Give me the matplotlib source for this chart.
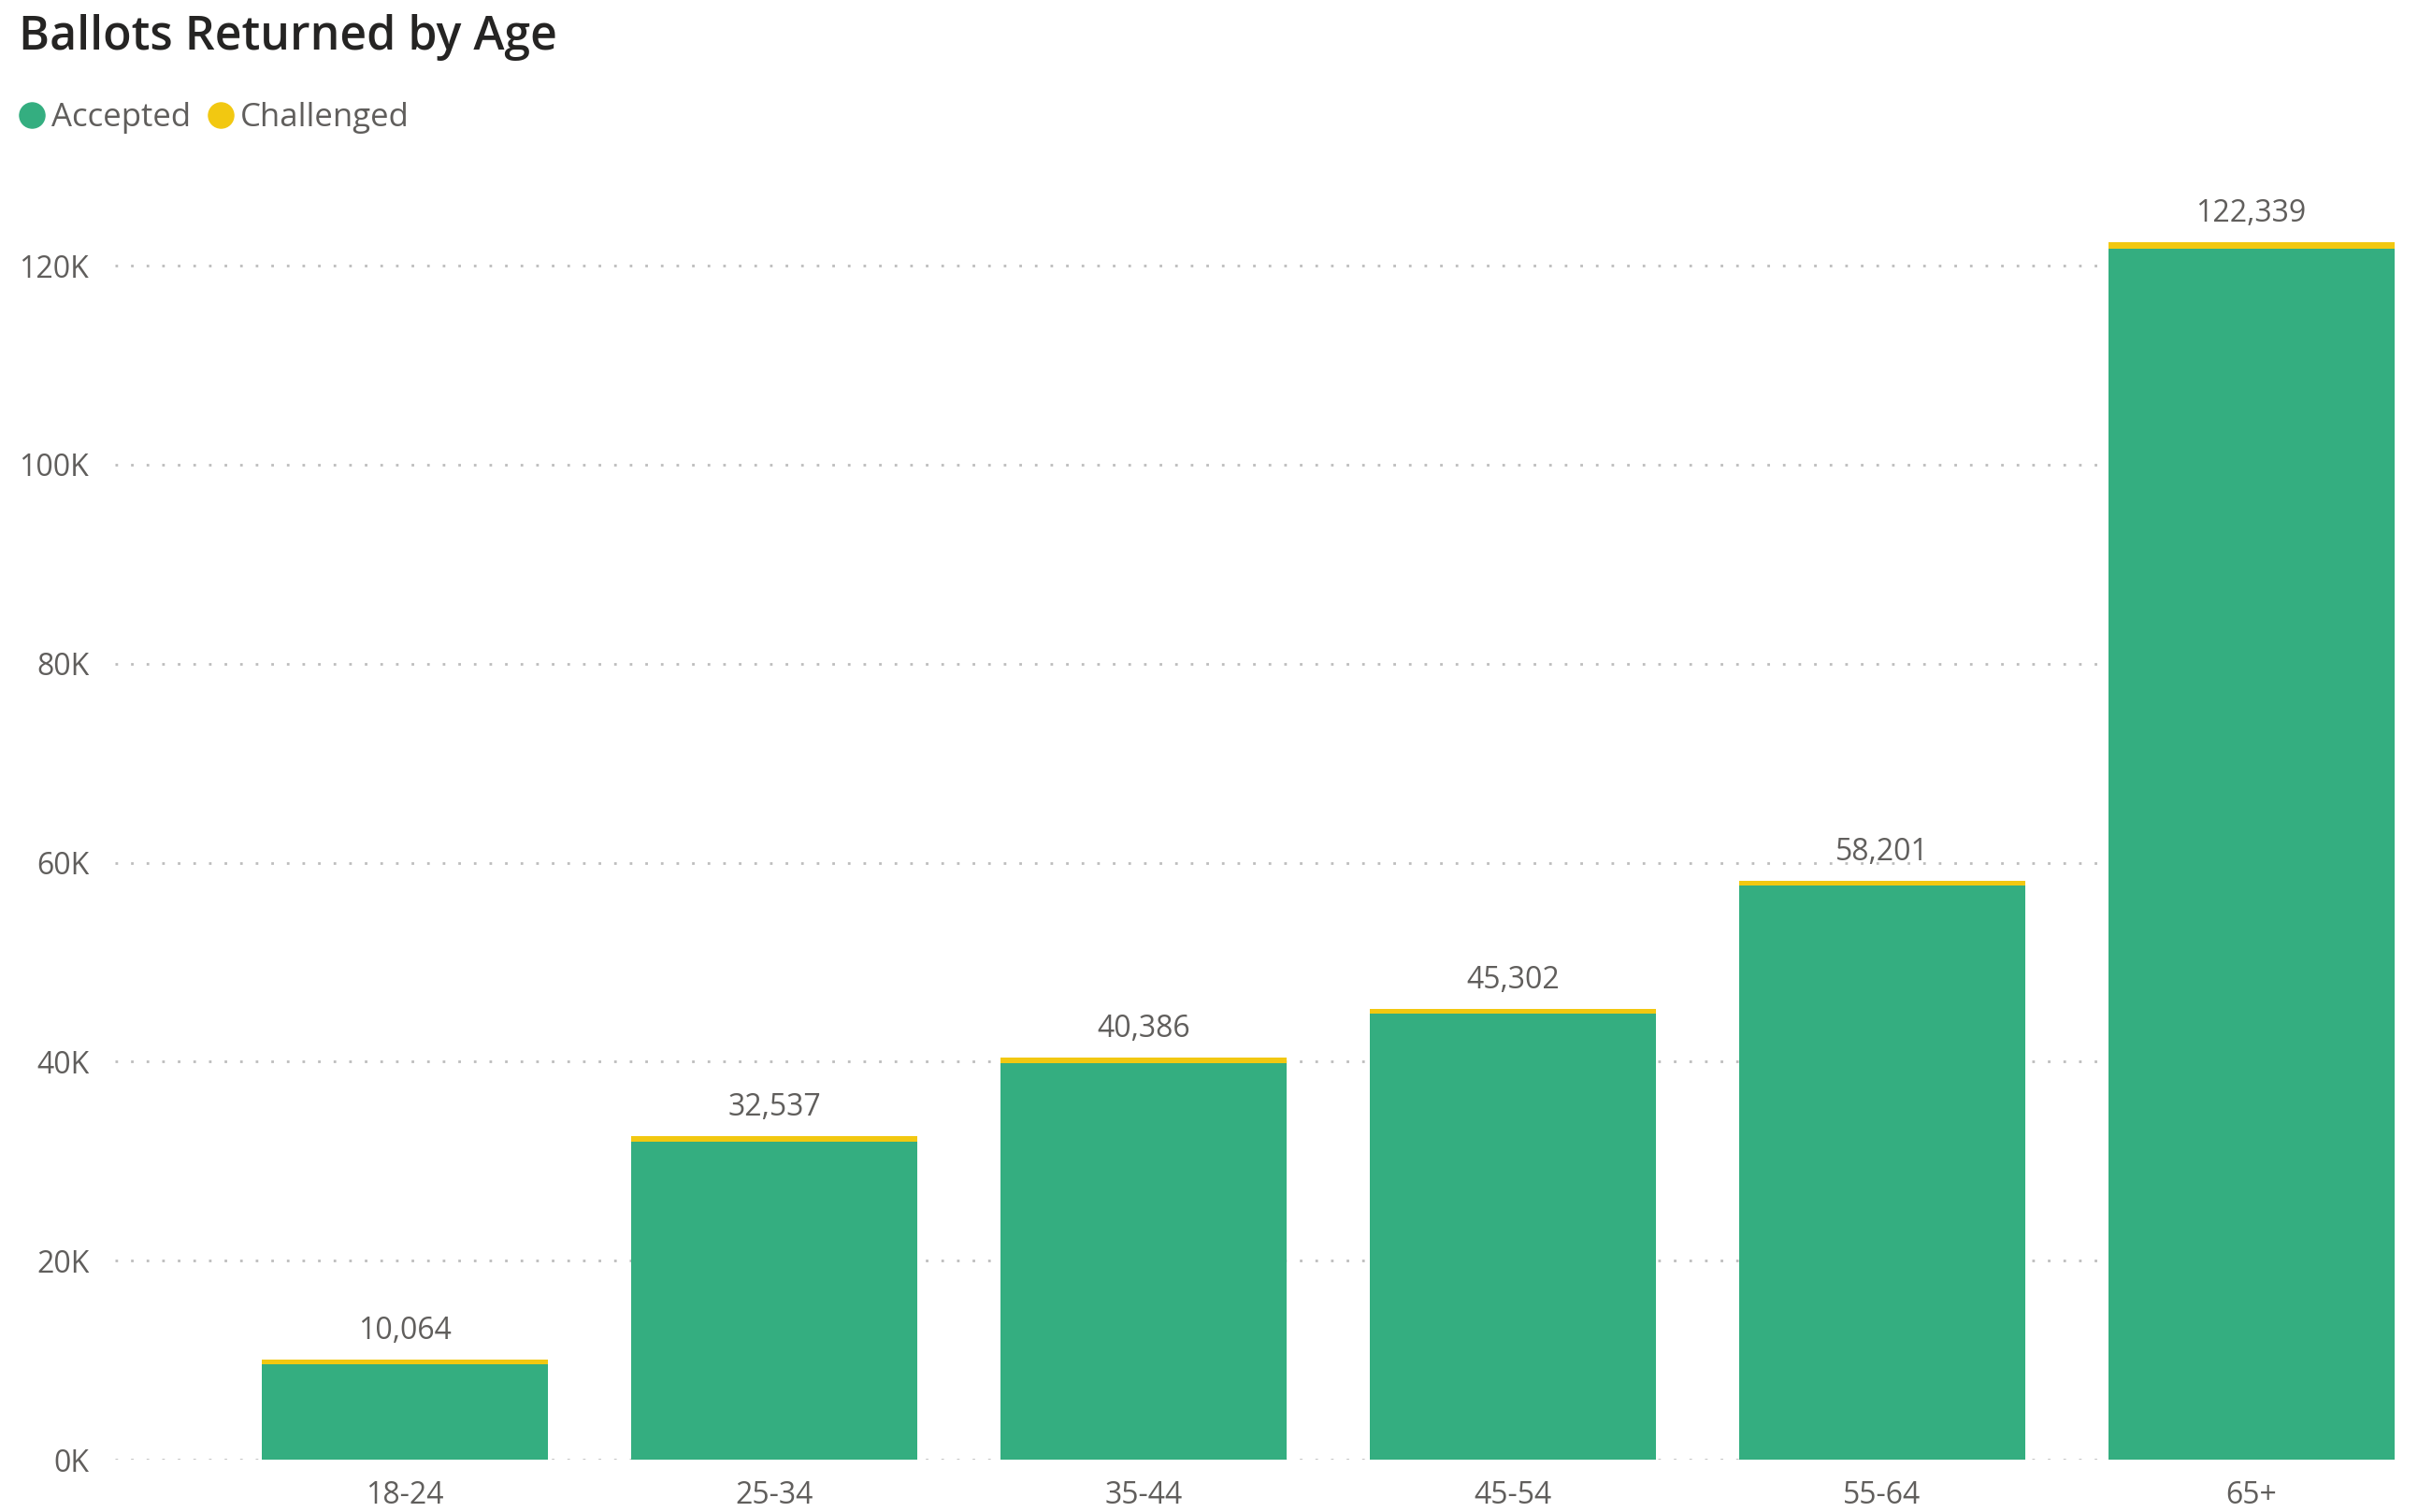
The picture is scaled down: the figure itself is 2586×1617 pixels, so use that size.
import numpy as np
import matplotlib.pyplot as plt
from matplotlib.lines import Line2D
from matplotlib.ticker import FuncFormatter

plt.rcParams['font.family'] = ['Open Sans', 'DejaVu Sans']

# Данные
age_groups = ['18-24', '25-34', '35-44', '45-54', '55-64', '65+']
accepted = [9614, 31977, 39866, 44802, 57731, 121659]
challenged = [450, 560, 520, 500, 470, 680]

green = '#34AE80'
yellow = '#F2C811'
text_gray = '#605E5C'

fig = plt.figure(figsize=(25.86, 16.17), dpi=100)
ax = fig.add_axes([0.0476, 0.0346, 0.9474, 0.8424])

x = np.arange(len(age_groups))
acc = np.array(accepted)
chal = np.array(challenged)
totals = acc + chal

ax.bar(x, acc, width=0.775, color=green, zorder=2)
top = ax.bar(x, chal, width=0.775, bottom=acc, color=yellow, zorder=2)
ax.bar_label(top, labels=[f'{t:,}' for t in totals], padding=10,
             fontsize=23, color=text_gray)

ax.set_xlim(-0.785, 5.419)
ax.set_ylim(0, 128000)
ax.set_yticks(np.arange(0, 120001, 20000))
ax.yaxis.set_major_formatter(FuncFormatter(lambda v, p: f'{int(v / 1000)}K'))
ax.set_xticks(x)
ax.set_xticklabels(age_groups)

ax.grid(axis='y', color='#BDBDBD', linewidth=2, linestyle=(0, (1, 5)), zorder=0)
for s in ax.spines.values():
    s.set_visible(False)
ax.tick_params(axis='both', length=0, labelsize=23, colors=text_gray)
ax.tick_params(axis='y', pad=20)
ax.tick_params(axis='x', pad=16)

fig.text(20 / 2586, 1 - 53 / 1617, 'Ballots Returned by Age', fontsize=36,
         fontweight='semibold', color='#252423', va='baseline', ha='left')

handles = [Line2D([], [], marker='o', ls='', color=green, markersize=19.5),
           Line2D([], [], marker='o', ls='', color=yellow, markersize=19.5)]
fig.legend(handles, ['Accepted', 'Challenged'], loc='center left',
           bbox_to_anchor=(17 / 2586, 1 - 126 / 1617), ncol=2, frameon=False,
           fontsize=25, labelcolor=text_gray, handlelength=1.0,
           handletextpad=0.1, columnspacing=0.4, borderpad=0, borderaxespad=0)

fig.savefig('out.png', dpi=100)
